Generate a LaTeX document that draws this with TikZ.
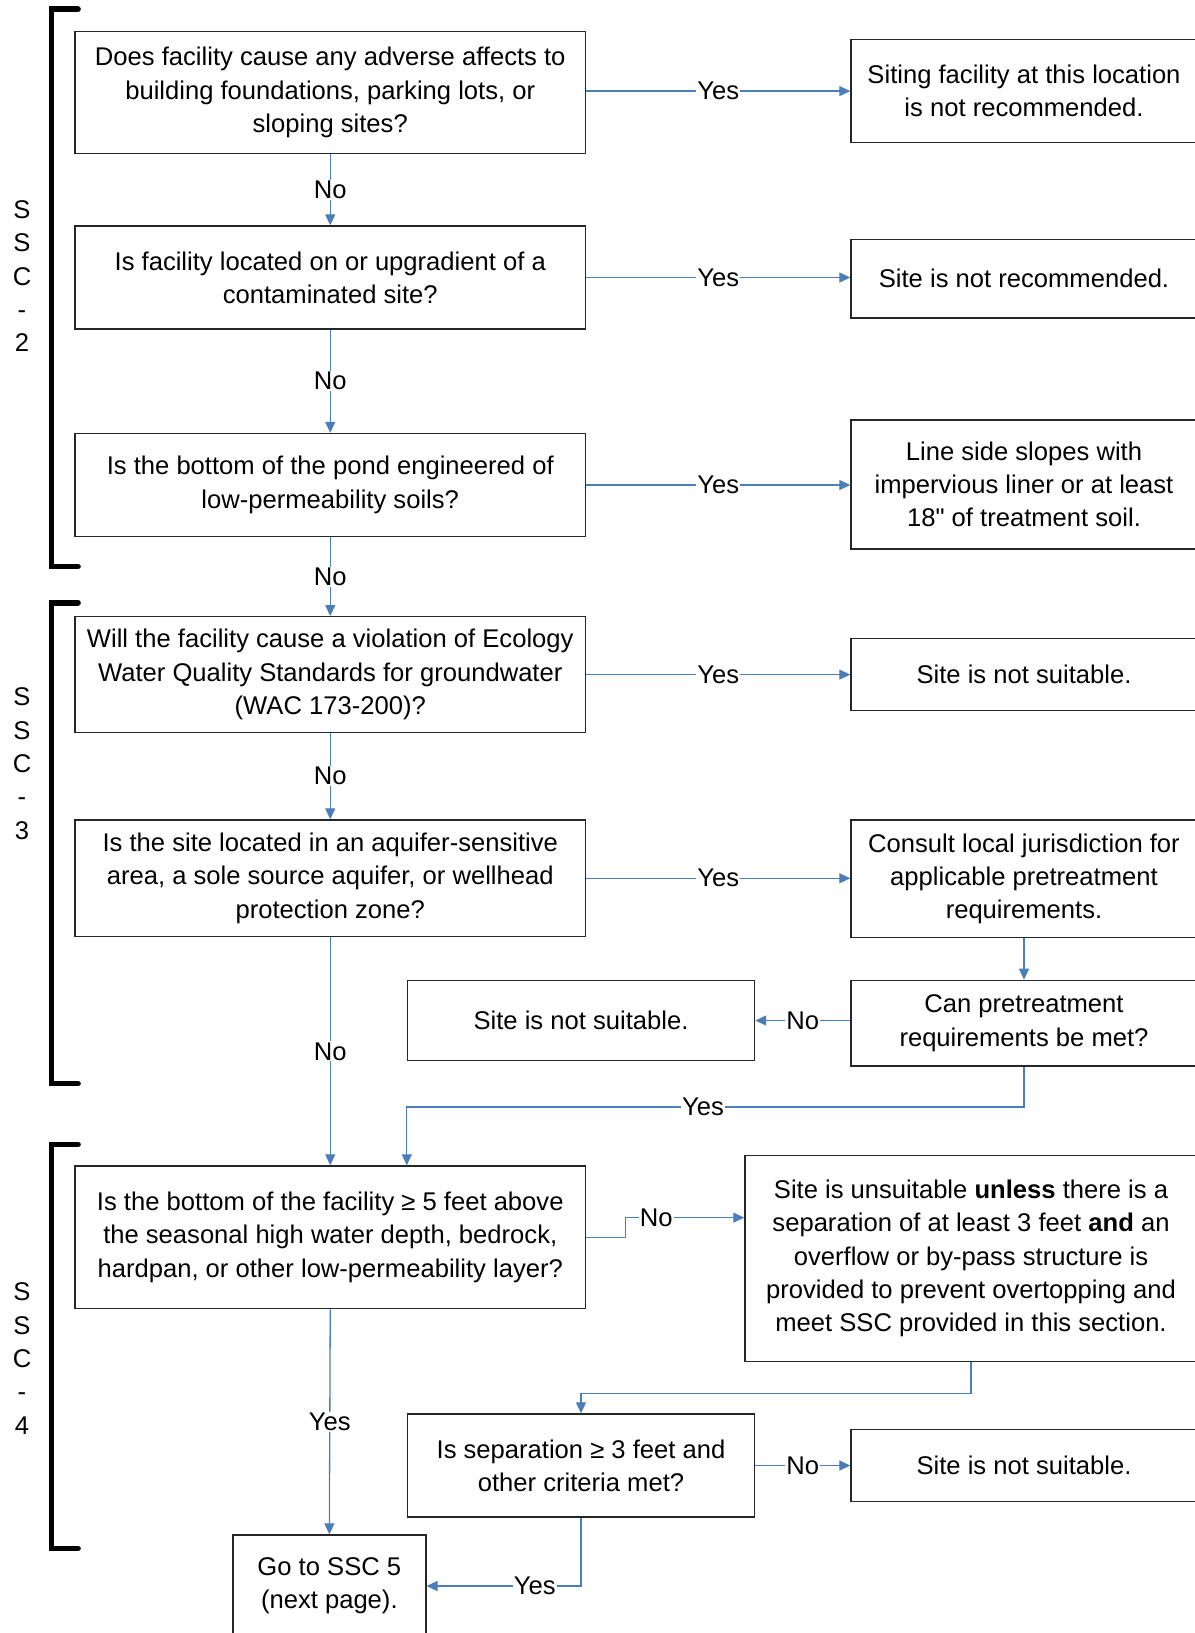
\documentclass[tikz,border=0pt]{standalone}
\usepackage{fontspec}
\setmainfont{Liberation Sans}[Ligatures=TeXOff]
\usetikzlibrary{arrows.meta}
\definecolor{flowBlue}{RGB}{74,126,187}
\newcommand{\leftX}{330.25}
\newcommand{\rightX}{1024}
\newcommand{\midX}{581}
\newcommand{\leftWidth}{255.25pt}
\newcommand{\rightWidth}{173pt}
\newcommand{\midWidth}{173.5pt}

\begin{document}
\begin{tikzpicture}[x=0.5pt, y=-0.5pt,
    font=\fontsize{12.8}{16.65}\selectfont,
    box/.style={draw=black!85, line width=0.7pt, align=center, inner sep=2pt},
    flow/.style={draw=flowBlue, line width=0.65pt, -{Triangle[length=5.5pt,width=5pt]}},
    lbl/.style={fill=white, inner sep=0.6pt},
    bracket/.style={line width=2.85pt, line cap=round}]
\useasboundingbox (0,0) rectangle (1194,1633);

\foreach \n/\ya/\yb/\yc in {2/9.3/566.5/276.1, 3/602.7/1083.6/763.7, 4/1144.5/1548.4/1358.6}{
  \draw[bracket] (78,\ya) -- (51.5,\ya) -- (51.5,\yb) -- (78,\yb);
  \node[align=center] (ssc\n) at (22,\yc) {S\\S\\C\\-\\\n};
}

\node[box, minimum width=\leftWidth, minimum height=60.95pt] (q1) at (\leftX,92.5)
  {Does facility cause any adverse affects to\\building foundations, parking lots, or\\sloping sites?};
\node[box, minimum width=\leftWidth, minimum height=51.5pt] (q2) at (\leftX,277.5)
  {Is facility located on or upgradient of a\\contaminated site?};
\node[box, minimum width=\leftWidth, minimum height=51.5pt] (q3) at (\leftX,485)
  {Is the bottom of the pond engineered of\\low-permeability soils?};
\node[box, minimum width=\leftWidth, minimum height=57.85pt] (q4) at (\leftX,674.6)
  {Will the facility cause a violation of Ecology\\Water Quality Standards for groundwater\\(WAC 173-200)?};
\node[box, minimum width=\leftWidth, minimum height=58.35pt] (q5) at (\leftX,878.3)
  {Is the site located in an aquifer-sensitive\\area, a sole source aquifer, or wellhead\\protection zone?};
\node[box, minimum width=\leftWidth, minimum height=71.3pt] (q6) at (\leftX,1237.3)
  {Is the bottom of the facility ≥ 5 feet above\\the seasonal high water depth, bedrock,\\hardpan, or other low-permeability layer?};

\node[box, minimum width=\rightWidth, minimum height=51.5pt] (r1) at (\rightX,91.1)
  {Siting facility at this location\\is not recommended.};
\node[box, minimum width=\rightWidth, minimum height=39.1pt] (r2) at (\rightX,278.7)
  {Site is not recommended.};
\node[box, minimum width=\rightWidth, minimum height=64.5pt] (r3) at (\rightX,484.5)
  {Line side slopes with\\impervious liner or at least\\18" of treatment soil.};
\node[box, minimum width=\rightWidth, minimum height=36pt] (r4) at (\rightX,674.6)
  {Site is not suitable.};
\node[box, minimum width=\rightWidth, minimum height=58.85pt] (r5) at (\rightX,878.8)
  {Consult local jurisdiction for\\applicable pretreatment\\requirements.};
\node[box, minimum width=\rightWidth, minimum height=42.75pt] (r6) at (\rightX,1023.1)
  {Can pretreatment\\requirements be met?};
\node[box, minimum width=\rightWidth, minimum height=36pt] (r7) at (\rightX,1465.5)
  {Site is not suitable.};

\node[box, minimum width=\midWidth, minimum height=40pt] (m1) at (\midX,1020.5)
  {Site is not suitable.};
\node[box, minimum width=226pt, minimum height=103.15pt] (m2) at (971,1258.6)
  {Site is unsuitable \textbf{unless} there is a\\separation of at least 3 feet \textbf{and} an\\overflow or by-pass structure is\\provided to prevent overtopping and\\meet SSC provided in this section.};
\node[box, minimum width=\midWidth, minimum height=51.5pt] (m3) at (\midX,1465.5)
  {Is separation ≥ 3 feet and\\other criteria met?};
\node[box, minimum width=96.5pt, minimum height=51pt] (go) at (329.35,1586)
  {Go to SSC 5\\(next page).};

\draw[flow] (q1.east |- r1.west) -- node[lbl]{Yes} (r1.west);
\draw[flow] (q2.east) -- node[lbl]{Yes} (q2.east -| r2.west);
\draw[flow] (q3.east) -- node[lbl]{Yes} (q3.east -| r3.west);
\draw[flow] (q4.east) -- node[lbl]{Yes} (q4.east -| r4.west);
\draw[flow] (q5.east) -- node[lbl]{Yes} (q5.east -| r5.west);
\draw[flow] (q1) -- node[lbl]{No} (q2);
\draw[flow] (q2) -- node[lbl]{No} (q3);
\draw[flow] (q3) -- node[lbl]{No} (q4);
\draw[flow] (q4) -- node[lbl]{No} (q5);
\draw[flow] (q5) -- node[lbl]{No} (q6);
\draw[flow] (r5) -- (r6);
\draw[flow] (r6.west |- m1.east) -- node[lbl]{No} (m1.east);
\draw[flow] (r6.south) -- ++(0,40.5) -| node[lbl,pos=0.26]{Yes} (q6.north -| m1.west);
\draw[flow] (q6.east) -- ++(39,0) |- node[lbl,pos=0.63]{No} ([yshift=20.5pt]m2.west);
\draw[flow] (q6.south) -- node[lbl]{Yes} (go.north);
\draw[flow] (m2.south) -- ++(0,31) -| (m3.north);
\draw[flow] (m3) -- node[lbl]{No} (r7);
\draw[flow] (m3.south) |- node[lbl,pos=0.65]{Yes} (go.east);
\end{tikzpicture}
\end{document}
